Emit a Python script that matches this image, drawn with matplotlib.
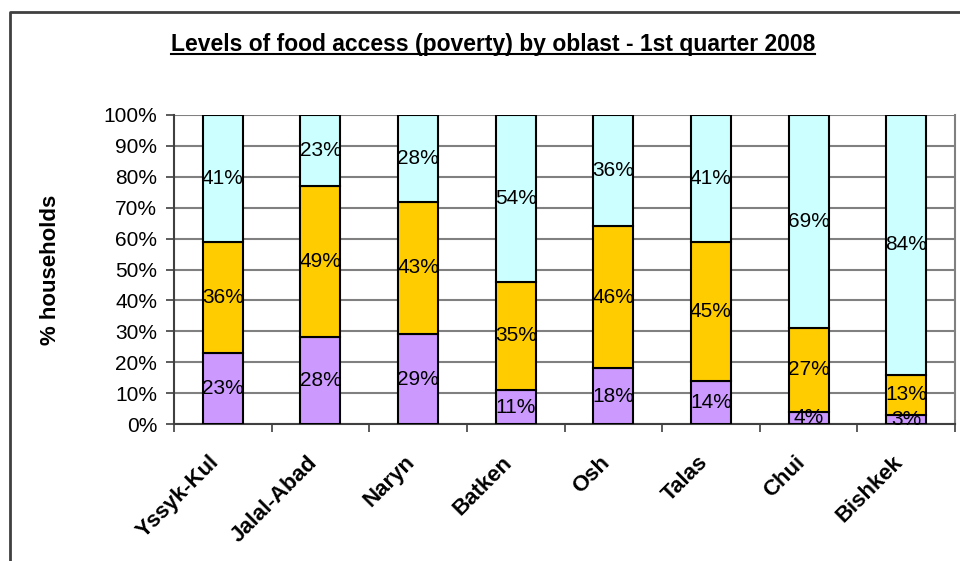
import numpy as np
import matplotlib
matplotlib.use("Agg")
from matplotlib import pyplot as plt
from matplotlib.lines import Line2D
from matplotlib.transforms import ScaledTranslation

plt.rcParams['font.family'] = ['Liberation Sans', 'DejaVu Sans']

# 各州数据 (% households)
oblasts = ['Yssyk-Kul', 'Jalal-Abad', 'Naryn', 'Batken', 'Osh', 'Talas', 'Chui', 'Bishkek']
poor = [23, 28, 29, 11, 18, 14, 4, 3]
borderline = [36, 49, 43, 35, 46, 45, 27, 13]
good = [41, 23, 28, 54, 36, 41, 69, 84]
yticks = [0, 10, 20, 30, 40, 50, 60, 70, 80, 90, 100]

fig = plt.figure(figsize=(9.6, 5.61), dpi=100)
ax = fig.add_axes([174 / 960, 1 - 424 / 561, 781 / 960, 309 / 561])

x = np.arange(len(oblasts))
w = 0.41
bottoms = np.zeros(len(oblasts))
for vals, col in [(poor, '#CC99FF'), (borderline, '#FFCC00'), (good, '#CCFFFF')]:
    bars = ax.bar(x, vals, w, bottom=bottoms, color=col, edgecolor='black', linewidth=1.5, zorder=3)
    ax.bar_label(bars, labels=[f'{v}%' for v in vals], label_type='center', fontsize=15, zorder=4)
    bottoms += np.array(vals)

ax.set_xlim(-0.5, len(oblasts) - 0.5)
ax.set_ylim(0, 100)
ax.set_yticks(yticks)
ax.set_yticklabels([f'{t}%' for t in yticks], fontsize=15)
ax.yaxis.grid(True, color='#808080', linewidth=1.5, zorder=0)

# 刻度线在类别之间, 标签在类别中心
ax.set_xticks(np.arange(-0.5, len(oblasts)), labels=[''] * (len(oblasts) + 1))
ax.set_xticks(x, labels=oblasts, minor=True)
ax.tick_params(axis='x', which='minor', length=0, pad=10)
ax.tick_params(axis='x', which='major', length=6, color='#404040', width=1.2)
ax.tick_params(axis='y', length=6, color='#404040', width=1.2, pad=6)
shift = ScaledTranslation(-0.14, -0.14, fig.dpi_scale_trans)
for lab in ax.get_xticklabels(minor=True):
    lab.set_rotation(45)
    lab.set_ha('right')
    lab.set_rotation_mode('anchor')
    lab.set_fontweight('bold')
    lab.set_fontsize(16)
    lab.set_transform(lab.get_transform() + shift)

for s in ['top', 'right']:
    ax.spines[s].set_color('#808080')
    ax.spines[s].set_linewidth(1.5)
for s in ['left', 'bottom']:
    ax.spines[s].set_color('#404040')
    ax.spines[s].set_linewidth(1.5)
ax.spines['top'].set_visible(False)

fig.text(51 / 960, 1 - 270 / 561, '% households', rotation=90, fontsize=16,
         fontweight='bold', ha='center', va='center')

# 标题加下划线
title = fig.text(493 / 960, 1 - 44 / 561, 'Levels of food access (poverty) by oblast - 1st quarter 2008',
                 fontsize=16.5, fontweight='bold', ha='center', va='center')
fig.canvas.draw()
bb = title.get_window_extent().transformed(fig.transFigure.inverted())
fig.add_artist(Line2D([bb.x0, bb.x1], [bb.y0 + 0.002, bb.y0 + 0.002], transform=fig.transFigure,
                      color='black', linewidth=1.5))

# 外框
fig.add_artist(Line2D([10 / 960, 10 / 960, 1], [0, 1 - 12 / 561, 1 - 12 / 561],
                      transform=fig.transFigure, color='#404040', linewidth=2))

fig.savefig('out.png', dpi=100)
